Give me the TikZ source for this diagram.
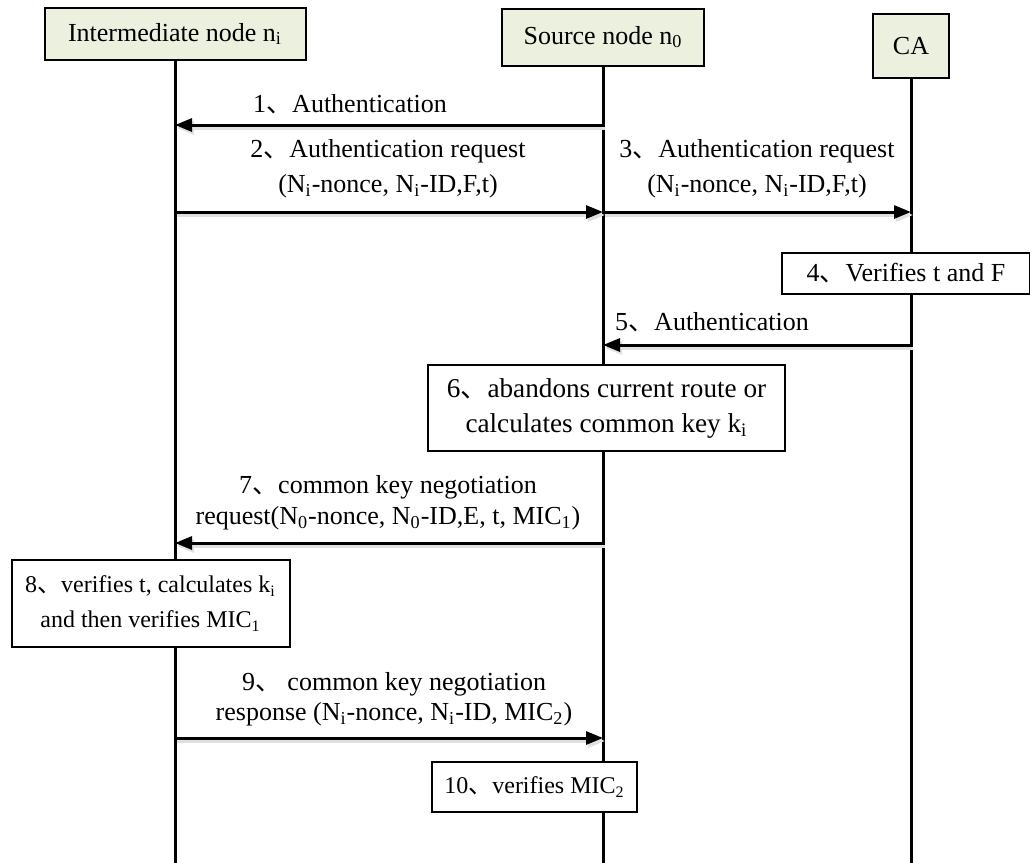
\documentclass[tikz,border=0pt]{standalone}
\usepackage{fontspec}
\setmainfont{Liberation Serif}
\newfontfamily\cjk{Noto Sans CJK SC}
\usetikzlibrary{arrows.meta,positioning}
\newcommand{\dun}{{\cjk 、}}
\definecolor{headfill}{HTML}{EBF1DE}

\begin{document}
\begin{tikzpicture}[x=0.5pt,y=-0.5pt,>={Triangle[length=8.5pt,width=6.5pt]},
    every node/.style={font=\fontsize{13}{17.5}\selectfont},
    head/.style={draw,line width=1pt,fill=headfill,inner sep=0pt},
    stepbox/.style={draw,line width=1pt,fill=white,inner sep=0pt,align=center},
    small/.style={font=\fontsize{12}{17.5}\selectfont},
    life/.style={line width=1.5pt},
    msg/.style={->,line width=1.5pt},
    msgshadow/.style={->,line width=1.5pt,draw=black!12,fill=black!12},
    lab/.style={align=center,inner sep=0pt}]
  \useasboundingbox (0,0) rectangle (1030,863);

  % Participants.
  \node[head,minimum width=130.5pt,minimum height=26pt] (inter) at (175,34)
      {Intermediate node n\textsubscript{i}};
  \node[head,minimum width=101pt,minimum height=28.5pt] (src) at (603,37)
      {Source node n\textsubscript{0}};
  \node[head,minimum width=38pt,minimum height=32pt] (ca) at (911,46) {CA};

  % Lifelines.
  \coordinate (interEnd) at (inter |- 0,863);
  \coordinate (srcEnd) at (src |- 0,863);
  \coordinate (caEnd) at (ca |- 0,863);
  \draw[life] (inter.south) -- (interEnd);
  \draw[life] (src.south) -- (srcEnd);
  \draw[life] (ca.south) -- (caEnd);

  % Messages between the lifelines.
  \foreach \from/\to/\y in {src/inter/125, inter/src/212, src/ca/212,
                            ca/src/345, src/inter/543, inter/src/738}{
      \draw[msgshadow] ([shift={(1pt,-1.5pt)}]\from |- 0,\y) -- ([shift={(1pt,-1.5pt)}]\to |- 0,\y);
      \draw[msg] (\from |- 0,\y) -- (\to |- 0,\y);
  }

  % Message labels.
  \node[lab] (lab1) at (350,104) {1\dun Authentication};
  \node[lab] (lab2) at (388,169)
      {2\dun Authentication request\\
       (N\textsubscript{i}-nonce, N\textsubscript{i}-ID,F,t)};
  \node[lab] (lab3) at (757,169)
      {3\dun Authentication request\\
       (N\textsubscript{i}-nonce, N\textsubscript{i}-ID,F,t)};
  \node[lab] (lab5) at (712,322) {5\dun Authentication};
  \node[lab,font=\fontsize{13}{15.5}\selectfont] (lab7) at (388,503)
      {7\dun common key negotiation\\
       request(N\textsubscript{0}-nonce, N\textsubscript{0}-ID,E, t, MIC\textsubscript{1})};
  \node[lab,font=\fontsize{13}{15}\selectfont] (lab9) at (394,699)
      {9\dun\ common key negotiation\\
       response (N\textsubscript{i}-nonce, N\textsubscript{i}-ID, MIC\textsubscript{2})};

  % Local processing steps.
  \node[stepbox,minimum width=124pt,minimum height=20.5pt] (step4) at (906,273.5)
      {4\dun Verifies t and F};
  \node[stepbox,minimum width=178.5pt,minimum height=43pt,
        font=\fontsize{13.6}{17.5}\selectfont] (step6) at (606.5,408)
      {6\dun abandons current route or\\
       calculates common key k\textsubscript{i}};
  \node[stepbox,small,minimum width=139pt,minimum height=43.5pt] (step8) at (150.5,603.5)
      {8\dun verifies t, calculates k\textsubscript{i}\\
       and then verifies MIC\textsubscript{1}};
  \node[stepbox,small,minimum width=102.5pt,minimum height=25pt] (step10) at (534.5,787)
      {10\dun verifies MIC\textsubscript{2}};
\end{tikzpicture}
\end{document}
